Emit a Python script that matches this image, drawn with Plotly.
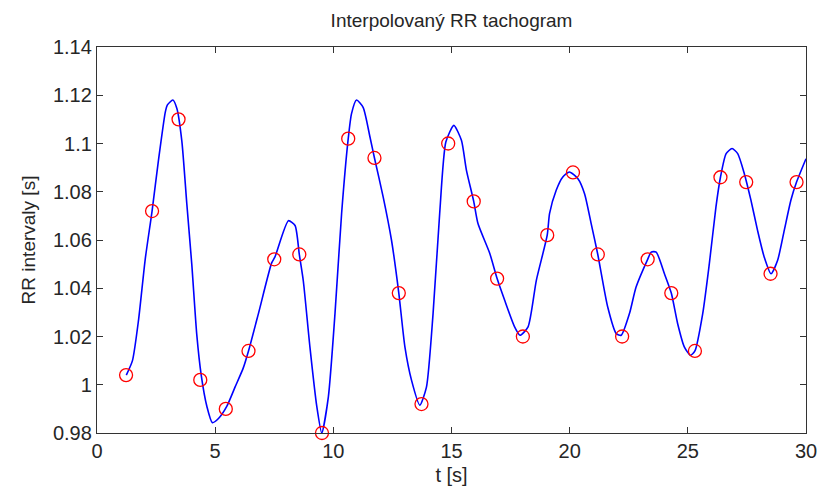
import plotly.graph_objects as go

# RR samples (red circles)
t_beats = [1.23, 2.33, 3.45, 4.37, 5.45, 6.41, 7.50, 8.56, 9.52, 10.63, 11.74, 12.77,
           13.73, 14.86, 15.94, 16.93, 18.02, 19.05, 20.14, 21.19, 22.22, 23.30,
           24.30, 25.30, 26.38, 27.47, 28.50, 29.60]
rr_beats = [1.004, 1.072, 1.110, 1.002, 0.990, 1.014, 1.052, 1.054, 0.980, 1.102, 1.094, 1.038,
            0.992, 1.100, 1.076, 1.044, 1.020, 1.062, 1.088, 1.054, 1.020, 1.052,
            1.038, 1.014, 1.086, 1.084, 1.046, 1.084]

# Interpolated tachogram (blue line)
t_interp = [1.24, 1.50, 1.76, 2.04, 2.33, 2.60, 2.89, 2.98, 3.21, 3.38, 3.59, 3.80, 4.01, 4.22,
            4.41, 4.65, 4.88, 5.14, 5.49, 5.84, 6.19, 6.41, 6.83, 7.39, 7.53, 8.10, 8.38,
            8.56, 8.73, 9.01, 9.30, 9.51, 9.79, 10.07, 10.35, 10.63, 10.77, 10.98, 11.26,
            11.55, 11.74, 12.11, 12.46, 12.77, 13.03, 13.31, 13.66, 13.94, 14.22, 14.50,
            14.76, 15.10, 15.42, 15.63, 15.94, 16.12, 16.62, 16.93, 17.25, 17.67, 17.90,
            18.24, 18.59, 19.05, 19.15, 19.43, 19.71, 19.99, 20.35, 20.63, 20.91, 21.19,
            21.61, 21.97, 22.18, 22.53, 22.81, 23.30, 23.45, 23.66, 24.01, 24.30, 24.57,
            24.85, 25.11, 25.30, 25.63, 25.91, 26.19, 26.38, 26.62, 26.87, 27.11, 27.39,
            27.67, 27.95, 28.23, 28.52, 28.80, 29.08, 29.36, 29.60, 30.00]
rr_interp = [1.004, 1.010, 1.027, 1.052, 1.072, 1.093, 1.113, 1.116, 1.118, 1.1145, 1.101, 1.075,
             1.050, 1.021, 1.004, 0.991, 0.9843, 0.986, 0.991, 0.999, 1.007, 1.014, 1.0295,
             1.0505, 1.053, 1.068, 1.066, 1.054, 1.043, 1.0156, 0.991, 0.980, 0.995, 1.0295,
             1.071, 1.102, 1.1124, 1.118, 1.115, 1.1027, 1.094, 1.0778, 1.060, 1.038, 1.0156,
             1.0018, 0.9915, 0.999, 1.0295, 1.071, 1.1006, 1.1075, 1.1013, 1.089, 1.076,
             1.0668, 1.0544, 1.044, 1.035, 1.024, 1.0205, 1.024, 1.0433, 1.062, 1.071, 1.0806,
             1.0861, 1.0882, 1.0854, 1.0792, 1.0668, 1.054, 1.0322, 1.0212, 1.0205, 1.0295,
             1.0405, 1.052, 1.055, 1.055, 1.046, 1.038, 1.0253, 1.0157, 1.0122, 1.014, 1.0295,
             1.0502, 1.0737, 1.086, 1.0958, 1.0979, 1.0958, 1.0875, 1.0765, 1.064, 1.053,
             1.046, 1.0516, 1.064, 1.0765, 1.084, 1.0937]

x_ticks = [0, 5, 10, 15, 20, 25, 30]
y_ticks = [0.98, 1.0, 1.02, 1.04, 1.06, 1.08, 1.1, 1.12, 1.14]
y_ticktext = ["0.98", "1", "1.02", "1.04", "1.06", "1.08", "1.1", "1.12", "1.14"]

FONT = "Liberation Sans, Arial, sans-serif"
TXT = "#262626"

fig = go.Figure()
fig.add_trace(go.Scatter(x=t_interp, y=rr_interp, mode="lines",
                         line=dict(color="#0000ff", width=1.6, shape="spline", smoothing=0.6),
                         hoverinfo="skip", showlegend=False, cliponaxis=True))
fig.add_trace(go.Scatter(x=t_beats, y=rr_beats, mode="markers",
                         marker=dict(symbol="circle-open", size=13, color="#ff0000",
                                     line=dict(width=1.3, color="#ff0000")),
                         showlegend=False, cliponaxis=False))

axis_common = dict(showgrid=False, zeroline=False, showline=True, linecolor="#333333",
                   linewidth=1.3, mirror="ticks", ticks="inside", ticklen=6,
                   tickcolor="#333333", tickwidth=1, automargin=False,
                   tickfont=dict(family=FONT, size=20, color=TXT))

fig.update_layout(
    width=818, height=486,
    margin=dict(l=97, r=12, t=47, b=53),
    paper_bgcolor="white", plot_bgcolor="white",
    title=dict(text="Interpolovaný RR tachogram", x=0.552, xanchor="center",
               y=1 - 20 / 486, yref="container", yanchor="middle",
               font=dict(family=FONT, size=19, color=TXT)),
    xaxis=dict(range=[0, 30], tickvals=x_ticks, **axis_common,
               title=dict(text="t [s]", standoff=9, font=dict(family=FONT, size=20, color=TXT))),
    yaxis=dict(range=[0.98, 1.14], tickvals=y_ticks, ticktext=y_ticktext, **axis_common,
               title=dict(text="RR intervaly [s]", standoff=12,
                          font=dict(family=FONT, size=19, color=TXT))),
)

fig.write_html("out.html")
